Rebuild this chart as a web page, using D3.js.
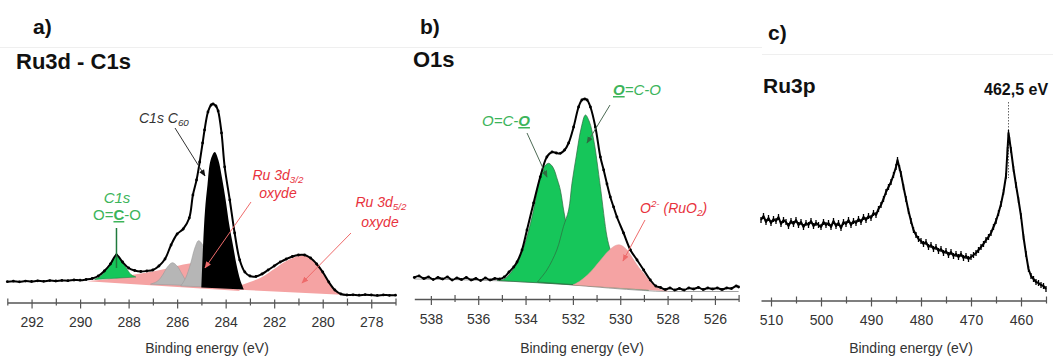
<!DOCTYPE html>
<html><head><meta charset="utf-8">
<script src="https://cdn.jsdelivr.net/npm/d3@7"></script>
<style>
body{margin:0;background:#fff;}
svg{display:block;font-family:"Liberation Sans",Arial,sans-serif;}
</style></head><body>
<svg id="chart" width="1053" height="356"></svg>
<script>
// ---------------- DATA ----------------
// Panel a : Ru3d - C1s  (binding energy eV, intensity a.u.)
const aMajorTicks = [292,290,288,286,284,282,280,278];
const aMinorTicks = [293,291,289,287,285,283,281,279,277];
const aMeasured = [[293.0,18.3],[292.75,18.8],[292.5,18.2],[292.25,18.9],[292.0,18.5],[291.75,19.2],[291.5,18.7],[291.25,19.4],[291.0,19],[290.75,19.6],[290.5,19.3],[290.25,20],[290.0,19.8],[289.75,20.5],[289.5,21.5],[289.25,24],[289.0,29],[288.75,36],[288.5,45],[288.25,38],[288.0,32],[287.75,29.5],[287.5,28.5],[287.25,29],[287.0,30],[286.75,34],[286.5,41],[286.25,55],[286.0,66],[285.75,71],[285.5,82],[285.35,105],[285.2,120],[285.07,138],[284.95,157],[284.87,170],[284.73,188],[284.6,195],[284.52,196],[284.4,194],[284.31,189],[284.17,167],[284.04,133],[283.83,100],[283.63,67],[283.42,40],[283.21,28],[283.0,24],[282.75,23.5],[282.5,26],[282.25,30],[282.0,34],[281.75,38],[281.5,41],[281.25,43.5],[281.0,45],[280.75,45],[280.5,42],[280.25,36],[280.0,28],[279.75,18],[279.5,10],[279.25,6],[279.0,5],[278.75,5.2],[278.5,4.8],[278.25,5.3],[278.0,5],[277.75,4.6],[277.5,5.1],[277.25,4.7],[277.0,4.8]];
const aRu3d32 = [[289.7,18.8],[289.0,20.5],[288.5,22],[288.0,24.5],[287.5,26.5],[287.0,28.5],[286.5,31],[286.0,34],[285.5,36.5],[285.1,37],[284.7,35.5],[284.3,30],[284.0,23],[283.7,15],[283.4,9]];
const aRu3d52 = [[284.5,11.5],[284.0,12],[283.5,14],[283.0,18],[282.5,23],[282.0,31],[281.5,39],[281.0,44],[280.75,44.5],[280.5,42],[280.25,36],[280.0,28],[279.75,18.5],[279.5,10],[279.25,6],[279.0,5]];
const aGray1 = [[287.1,15.8],[286.8,19],[286.6,25],[286.4,33],[286.2,37.3],[286.0,34],[285.8,26],[285.6,18],[285.45,14.5]];
const aGray2 = [[285.85,14],[285.65,22],[285.45,36],[285.27,52],[285.12,59.3],[284.97,56],[284.8,44],[284.6,30],[284.4,19],[284.2,12.5]];
const aGreen = [[289.4,20.5],[289.1,25],[288.85,33],[288.6,42],[288.5,43.5],[288.35,41],[288.1,32],[287.9,25.5],[287.7,23]];
const aBlack = [[285.0,12.5],[284.93,55],[284.85,90],[284.75,115],[284.62,140],[284.45,148],[284.3,140],[284.15,122],[284.0,100],[283.85,75],[283.7,55],[283.55,35],[283.4,20],[283.25,10.5]];

// Panel b : O1s
const bMajorTicks = [538,536,534,532,530,528,526];
const bMinorTicks = [537,535,533,531,529,527,525];
const bMeasured = [[538.7,22.5],[538.5,24],[538.3,21.5],[538.1,23],[537.9,20.5],[537.7,22.5],[537.5,21],[537.3,23],[537.1,20],[536.9,22],[536.7,20.5],[536.5,22.5],[536.3,20],[536.1,21.5],[535.9,19.5],[535.7,22],[535.5,20],[535.3,21.5],[535.1,21],[534.9,23],[534.7,28],[534.5,33],[534.36,38],[534.15,50],[533.94,70],[533.66,97],[533.38,123],[533.1,143],[532.88,148],[532.7,147],[532.53,146.7],[532.35,150],[532.18,157],[531.97,173],[531.76,193],[531.62,200],[531.5,201],[531.4,200],[531.26,193],[531.05,173],[530.84,143],[530.7,130],[530.56,116],[530.42,103],[530.28,93],[530.14,83],[529.86,67],[529.57,50],[529.29,40],[529.01,30],[528.73,20],[528.5,14],[528.3,12.5],[528.1,10.5],[527.9,12],[527.7,10],[527.5,11.5],[527.3,10],[527.1,12],[526.9,11],[526.7,12.5],[526.5,10.5],[526.3,12],[526.1,11],[525.9,12],[525.7,10.5],[525.5,12],[525.3,11.5],[525.1,14],[525.0,13]];
const bBackground = [[538.7,21],[535.5,19.5],[533.5,17.5],[532.0,15],[530.5,12],[529.0,9.5],[528.0,8.5],[525.0,8.5]];
const bGreen1 = [[535.2,19.5],[534.9,21],[534.6,28],[534.36,36.7],[534.15,48],[533.94,63.3],[533.66,90],[533.45,116.7],[533.25,132],[533.03,136.7],[532.85,133],[532.65,120],[532.53,110],[532.37,87],[532.15,62],[531.9,42],[531.6,28],[531.3,20],[531.0,16],[530.7,13.5]];
const bGreen2 = [[533.5,18],[533.1,30],[532.68,50],[532.4,73.3],[532.18,90],[532.04,116.7],[531.85,145],[531.65,172],[531.47,185],[531.3,178],[531.12,160],[530.84,113.3],[530.56,63.3],[530.42,50],[530.2,35],[529.9,24],[529.6,17],[529.2,12],[528.8,10]];
const bPink = [[532.0,15],[531.7,19],[531.3,27],[530.9,38],[530.5,49],[530.2,54.5],[530.0,55],[529.75,51],[529.43,40],[529.2,32],[529.01,26.7],[528.8,20],[528.59,15],[528.3,10.5],[528.0,9]];

// Panel c : Ru3p
const cMajorTicks = [510,500,490,480,470,460];
const cMinorTicks = [505,495,485,475,465,455];
const cPeakEnergy = 462.5;
const cMeasured = [[512,80],[511.5,84],[511,78],[510.5,82],[510,77],[509.5,81],[509,79],[508.5,83],[508,76],[507.5,80],[507,78],[506.5,74],[506,79],[505.5,76],[505,80],[504.5,75],[504,78],[503.5,73],[503,77],[502.5,75],[502,79],[501.5,74],[501,77],[500.5,75],[500,73],[499.5,78],[499,75],[498.5,77],[498,73],[497.5,79],[497,74],[496.5,77],[496,72],[495.5,78],[495,76],[494.5,80],[494,75],[493.5,79],[493,77],[492.5,81],[492,78],[491.5,83],[491,80],[490.5,84],[490,82],[489.5,87],[489,85],[488.5,91],[488,95],[487.5,101],[487,108],[486.5,113],[486,118],[485.5,125],[485,133],[484.7,140],[484.3,132],[484,126],[483.5,113],[483,101],[482.5,89],[482,79],[481.5,70],[481,65],[480.5,61],[480,59],[479.5,56],[479,58],[478.5,53],[478,55],[477.5,51],[477,53],[476.5,49],[476,51],[475.5,47],[475,49],[474.5,45],[474,48],[473.5,44],[473,46],[472.5,43],[472,46],[471.5,42],[471,44],[470.5,41],[470,43],[469.5,45],[469,47],[468.5,50],[468,53],[467.5,56],[467,60],[466.5,63],[466,67],[465.5,73],[465,79],[464.5,87],[464,96],[463.5,108],[463,124],[462.7,150],[462.5,167],[462.3,160],[462,150],[461.5,131],[461,115],[460.5,100],[460,84],[459.5,63],[459,46],[458.5,31],[458,24],[457.5,21],[457,18],[456.5,17],[456,15],[455.5,14],[455,11]];

// ---------------- DRAW ----------------
const svg = d3.select('#chart');
const C = {green:'#16c65a', greenText:'#3cb45a', greenDark:'#2e6b40', pink:'#f5a3a3', red:'#e8323c', redArrow:'#ee6b6b', gray:'#b6b6b6', axis:'#555', text:'#333'};

const yS = d3.scaleLinear().domain([0,200]).range([300,100]);
const xa = d3.scaleLinear().domain([293,277]).range([7.3,395.5]);
const xb = d3.scaleLinear().domain([538.7,525]).range([414.3,738.6]);
const xc = d3.scaleLinear().domain([512,455]).range([761,1046]);

const defs = svg.append('defs');
function marker(id, color){
  defs.append('marker').attr('id',id).attr('viewBox','0 0 10 10').attr('refX',9).attr('refY',5)
    .attr('markerWidth',7).attr('markerHeight',7).attr('orient','auto')
    .append('path').attr('d','M0,1 L10,5 L0,9 Z').attr('fill',color);
}
marker('arrBlack','#111'); marker('arrRed',C.redArrow); marker('arrGreen',C.greenDark);

svg.append('line').attr('x1',0).attr('x2',762).attr('y1',47.5).attr('y2',47.5).attr('stroke','#efefef');
svg.append('line').attr('x1',762).attr('x2',1053).attr('y1',54.5).attr('y2',54.5).attr('stroke','#efefef');

function drawAxis(x, yPos, major, minor, cx){
  const g = svg.append('g').attr('transform',`translate(0,${yPos})`)
    .call(d3.axisBottom(x).tickValues(major).tickSize(6).tickSizeOuter(0).tickPadding(9).tickFormat(d3.format('d')));
  g.select('.domain').attr('stroke',C.axis).attr('stroke-width',1.4);
  g.selectAll('.tick line').attr('stroke',C.axis).attr('stroke-width',1.2).attr('y1',-3);
  g.selectAll('.tick text').attr('font-size',14).attr('fill',C.text).attr('font-family','"Liberation Sans",Arial,sans-serif');
  const gm = svg.append('g').attr('transform',`translate(0,${yPos})`)
    .call(d3.axisBottom(x).tickValues(minor).tickSize(3).tickSizeOuter(0).tickFormat(''));
  gm.select('.domain').remove();
  gm.selectAll('.tick line').attr('stroke',C.axis).attr('stroke-width',1.2).attr('y1',-4);
  svg.append('text').attr('x',cx).attr('y',353).attr('text-anchor','middle')
    .attr('font-size',14).attr('fill',C.text).text('Binding energy (eV)');
}
drawAxis(xa,302.5,aMajorTicks,aMinorTicks,207);
drawAxis(xb,299,bMajorTicks,bMinorTicks,582);
drawAxis(xc,300.5,cMajorTicks,cMinorTicks,911);

function comp(x, data, fill, stroke, sw){
  const line = d3.line().x(d=>x(d[0])).y(d=>yS(d[1])).curve(d3.curveCatmullRom.alpha(0.5));
  svg.append('path').attr('d', line(data)+'Z').attr('fill',fill)
    .attr('stroke',stroke||'none').attr('stroke-width',sw||0.6);
}
function measured(x, data, sw, markers, curve){
  const line = d3.line().x(d=>x(d[0])).y(d=>yS(d[1])).curve(curve||d3.curveLinear);
  svg.append('path').attr('d',line(data)).attr('fill','none').attr('stroke','#000').attr('stroke-width',sw).attr('stroke-linejoin','round');
  if(markers==='dot'){
    svg.append('g').selectAll('circle').data(data).join('circle')
      .attr('cx',d=>x(d[0])).attr('cy',d=>yS(d[1])).attr('r',1.4).attr('fill','#000');
  } else if(markers==='tick'){
    svg.append('g').selectAll('line').data(data).join('line')
      .attr('x1',d=>x(d[0])).attr('x2',d=>x(d[0]))
      .attr('y1',d=>yS(d[1])-3).attr('y2',d=>yS(d[1])+3).attr('stroke','#000').attr('stroke-width',1.3);
  }
}

// ----- Panel a -----
comp(xa, aRu3d32, C.pink);
comp(xa, aRu3d52, C.pink);
comp(xa, aGray1, C.gray, '#9a9a9a', 0.6);
comp(xa, aGray2, C.gray, '#9a9a9a', 0.6);
comp(xa, aGreen, C.green, '#1f8a45', 0.6);
comp(xa, aBlack, '#000');
measured(xa, aMeasured, 2, 'dot', d3.curveCatmullRom.alpha(0.5));

// ----- Panel b -----
svg.append('path').attr('d', d3.line().x(d=>xb(d[0])).y(d=>yS(d[1])).curve(d3.curveMonotoneX)(bBackground))
  .attr('fill','none').attr('stroke','#8a8a8a').attr('stroke-width',0.8);
comp(xb, bGreen1, C.green, C.greenDark, 0.7);
comp(xb, bGreen2, C.green, C.greenDark, 0.7);
comp(xb, bPink, C.pink, '#e09a9a', 0.5);
measured(xb, bMeasured, 2, 'dot', d3.curveCatmullRom.alpha(0.5));

// ----- Panel c -----
svg.append('line').attr('x1',xc(cPeakEnergy)).attr('x2',xc(cPeakEnergy)).attr('y1',102).attr('y2',178)
  .attr('stroke','#666').attr('stroke-width',1).attr('stroke-dasharray','1.5,1.5');
measured(xc, cMeasured, 2, 'tick');

// ----- Titles -----
function title(x,y,t,size){ svg.append('text').attr('x',x).attr('y',y).attr('font-size',size).attr('font-weight','bold').attr('fill','#111').text(t); }
title(33,34,'a)',21); title(420,34,'b)',21); title(768,40,'c)',21);
title(16,69,'Ru3d - C1s',22); title(413,67,'O1s',22); title(763,93,'Ru3p',21);
title(984,95,'462,5 eV',16);

// ----- Annotations -----
function rich(x,y,parts,opts){
  const t = svg.append('text').attr('x',x).attr('y',y).attr('font-size',opts.size||14)
    .attr('fill',opts.color).attr('font-style',opts.italic?'italic':'normal').attr('text-anchor',opts.anchor||'start');
  parts.forEach(p=>{
    const s = t.append('tspan').text(p.t);
    if(p.sub){ s.attr('font-size',(opts.size||14)*0.7).attr('dy',3); }
    if(p.sup){ s.attr('font-size',(opts.size||14)*0.7).attr('dy',-6); }
    if(p.back){ s.attr('dy',p.back); }
    if(p.bold){ s.attr('font-weight','bold').style('text-decoration','underline'); }
  });
  return t;
}
function arrow(x1,y1,x2,y2,color,mk){
  svg.append('line').attr('x1',x1).attr('y1',y1).attr('x2',x2).attr('y2',y2)
    .attr('stroke',color).attr('stroke-width',1).attr('marker-end',`url(#${mk})`);
}
// panel a
rich(139,123,[{t:'C1s C'},{t:'60',sub:true}],{color:'#333',italic:true,size:14});
arrow(175,128,205,176,'#333','arrBlack');
rich(278,180,[{t:'Ru 3d'},{t:'3/2',sub:true}],{color:C.red,italic:true,size:14,anchor:'middle'});
rich(278,198,[{t:'oxyde'}],{color:C.red,italic:true,size:14,anchor:'middle'});
arrow(251,202,205,268,C.redArrow,'arrRed');
rich(381,207,[{t:'Ru 3d'},{t:'5/2',sub:true}],{color:C.red,italic:true,size:14,anchor:'middle'});
rich(380,227,[{t:'oxyde'}],{color:C.red,italic:true,size:14,anchor:'middle'});
arrow(351,233,302,283,C.redArrow,'arrRed');
rich(117,203,[{t:'C1s'}],{color:C.greenText,italic:true,size:15,anchor:'middle'});
rich(117,220,[{t:'O='},{t:'C',bold:true},{t:'-O'}],{color:C.greenText,italic:false,size:15,anchor:'middle'});
svg.append('line').attr('x1',xa(288.5)).attr('x2',xa(288.5)).attr('y1',228).attr('y2',268).attr('stroke','#1f7a3c').attr('stroke-width',1.5);
// panel b
rich(482,126,[{t:'O=C-'},{t:'O',bold:true}],{color:C.greenText,italic:true,size:15});
arrow(527,133,547,177,'#4d6b55','arrGreen');
rich(613,95,[{t:'O',bold:true},{t:'=C-O'}],{color:C.greenText,italic:true,size:15});
arrow(610,105,587,143,'#4d6b55','arrGreen');
rich(640,213,[{t:'O'},{t:'2-',sup:true},{t:' (RuO',back:6},{t:'2',sub:true},{t:')',back:-3}],{color:C.red,italic:true,size:14});
arrow(645,220,623,261,C.redArrow,'arrRed');
</script>
</body></html>
